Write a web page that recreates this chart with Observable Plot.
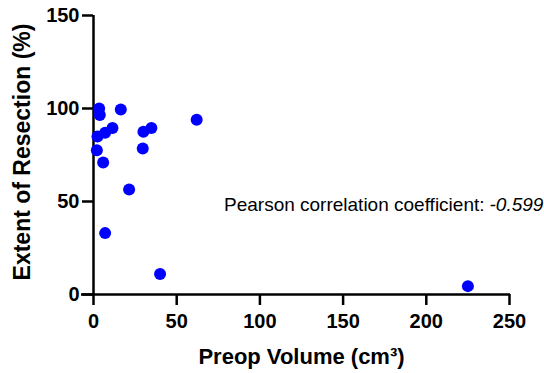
<!DOCTYPE html>
<html>
<head>
<meta charset="utf-8">
<script src="https://cdn.jsdelivr.net/npm/d3@7"></script>
<script src="https://cdn.jsdelivr.net/npm/@observablehq/plot@0.6"></script>
<style>
  html, body { margin: 0; padding: 0; background: #fff; }
</style>
</head>
<body>
<div id="chart"></div>
<script>
// Data
const preopVolume = [3.4, 3.8, 16.4, 2.4, 7, 11.4, 2, 5.8, 30, 34.8, 29.6, 62, 21.4, 7, 40, 225];
const extentOfResection = [100, 96.5, 99.5, 85, 87, 89.5, 77.5, 71, 87.5, 89.5, 78.5, 94, 56.5, 33, 11, 4.5];

const xTicks = [0, 50, 100, 150, 200, 250];
const yTicks = [0, 50, 100, 150];

const xTitle = ["Preop Volume (cm³)"];
const yTitle = ["Extent of Resection (%)"];
const annLabel = ["Pearson correlation coefficient:"];
const annValue = ["-0.599"];
const annPos = [{x: 238, y: 48}];

const data = preopVolume.map((v, i) => ({volume: v, resection: extentOfResection[i]}));

const font = "'Liberation Sans', Arial, Helvetica, sans-serif";

const chart = Plot.plot({
  width: 544,
  height: 373,
  marginLeft: 93,
  marginRight: 35,
  marginTop: 15,
  marginBottom: 79,
  style: {fontFamily: font, fontSize: "20px", color: "#000", background: "#fff", overflow: "visible"},
  x: {domain: [0, 250]},
  y: {domain: [0, 150]},
  marks: [
    Plot.axisX({ticks: xTicks, tickSize: 11, tickPadding: 8, strokeWidth: 2.5, fontWeight: "bold", fontSize: 20, label: null}),
    Plot.axisY({ticks: yTicks, tickSize: 11, tickPadding: 3, strokeWidth: 2.5, fontWeight: "bold", fontSize: 20, label: null}),
    Plot.ruleX([0], {strokeWidth: 2.5}),
    Plot.ruleY([0], {strokeWidth: 2.5, insetLeft: -12, insetRight: -1}),
    Plot.dot(data, {x: "volume", y: "resection", r: 6, fill: "#0000ff", stroke: "none"}),
    Plot.text(annPos, {x: "x", y: "y", text: () => annLabel[0], textAnchor: "end", dx: -5, fontSize: 19}),
    Plot.text(annPos, {x: "x", y: "y", text: () => annValue[0], textAnchor: "start", fontSize: 19, fontStyle: "italic"}),
    Plot.text(xTitle, {text: d => d, frameAnchor: "bottom", textAnchor: "middle", dy: 69, fontSize: 22, fontWeight: "bold"}),
    Plot.text(yTitle, {text: d => d, frameAnchor: "left", textAnchor: "middle", lineAnchor: "middle", rotate: -90, dx: -71, dy: -3, fontSize: 23, fontWeight: "bold"})
  ]
});
document.getElementById("chart").appendChild(chart);
</script>
</body>
</html>
